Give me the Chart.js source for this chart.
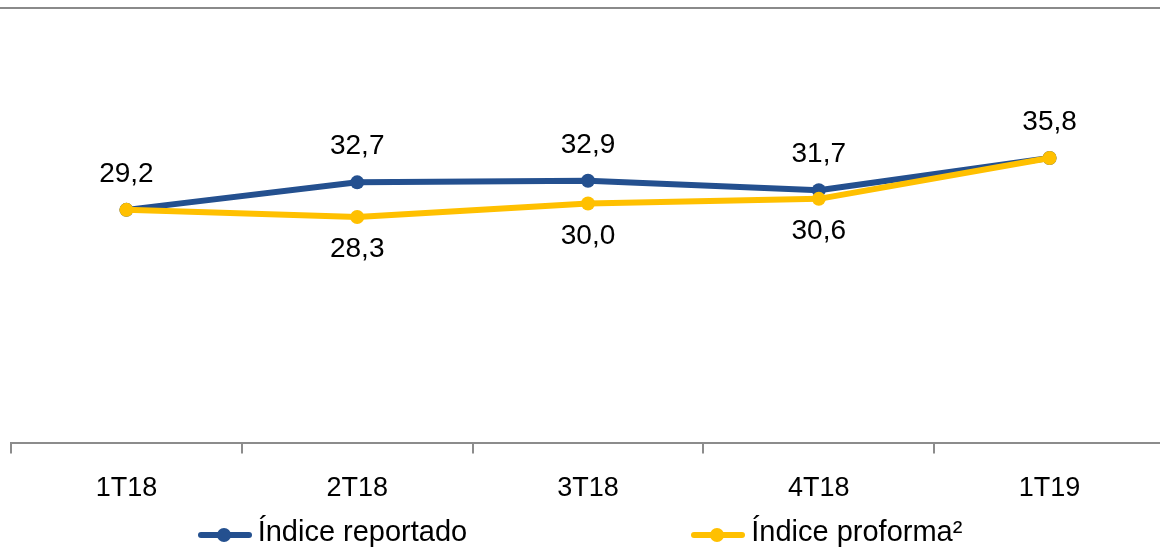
<!DOCTYPE html>
<html>
<head>
<meta charset="utf-8">
<script src="https://cdn.jsdelivr.net/npm/chart.js@4.4.0/dist/chart.umd.min.js"></script>
<style>
  html, body { margin: 0; padding: 0; background: #fff; overflow: hidden; }
  #wrap { position: relative; width: 1160px; height: 549px; overflow: hidden; }
  #grafico { position: absolute; left: 0; top: 0; }
  #topo { position: absolute; left: 0; top: 7px; width: 1160px; height: 2px; background: #8a8a8a; }
  #legenda { position: absolute; left: 0; top: 514px; width: 1160px; display: flex; justify-content: center; gap: 224px;
             font-family: "Liberation Sans", Arial, sans-serif; font-size: 29px; color: #000; line-height: 34px; }
  .item { display: flex; align-items: center; }
  .marca { position: relative; width: 54px; height: 14px; margin-right: 6px; margin-top: 8px; }
  .marca .linha { position: absolute; left: 0; right: 0; top: 4px; height: 6px; border-radius: 3px; }
  .marca .ponto { position: absolute; left: 19px; top: 0; width: 14px; height: 14px; border-radius: 50%; }
</style>
</head>
<body>
<div id="wrap">
  <canvas id="grafico" width="1172" height="549"></canvas>
  <div id="topo"></div>
  <div id="legenda"></div>
</div>
<script>
// dados do grafico ------------------------------------------------------------
const categorias = ['1T18', '2T18', '3T18', '4T18', '1T19'];
const indiceReportado = [29.2, 32.7, 32.9, 31.7, 35.8];
const indiceProforma = [29.2, 28.3, 30.0, 30.6, 35.8];
const nomesSeries = ['Índice reportado', 'Índice proforma²'];
const coresSeries = ['#24508f', '#ffc000'];

const fonte = '"Liberation Sans", Arial, sans-serif';

// rotulos de valor: reportado acima, proforma abaixo ---------------------------
const rotulos = {
  id: 'rotulos',
  afterDatasetsDraw(chart) {
    const ctx = chart.ctx;
    ctx.save();
    ctx.font = '28px ' + fonte;
    ctx.fillStyle = '#000';
    ctx.textAlign = 'center';
    ctx.textBaseline = 'alphabetic';
    chart.data.datasets.forEach((ds, i) => {
      const meta = chart.getDatasetMeta(i);
      meta.data.forEach((pt, j) => {
        const v = ds.data[j];
        // se o valor e igual ao da outra serie, so um rotulo
        if (i === 1 && v === chart.data.datasets[0].data[j]) return;
        const texto = v.toFixed(1).replace('.', ',');
        if (i === 0) ctx.fillText(texto, pt.x, pt.y - 28);
        else ctx.fillText(texto, pt.x, pt.y + 40);
      });
    });
    ctx.restore();
  }
};

const ctx = document.getElementById('grafico').getContext('2d');
const grafico = new Chart(ctx, {
  type: 'line',
  data: {
    labels: categorias,
    datasets: [
      {
        label: nomesSeries[0],
        data: indiceReportado,
        borderColor: coresSeries[0],
        backgroundColor: coresSeries[0],
        borderWidth: 6,
        borderJoinStyle: 'round',
        pointRadius: 7,
        pointBorderWidth: 0,
        order: 1
      },
      {
        label: nomesSeries[1],
        data: indiceProforma,
        borderColor: coresSeries[1],
        backgroundColor: coresSeries[1],
        borderWidth: 6,
        borderJoinStyle: 'round',
        pointRadius: 7,
        pointBorderWidth: 0,
        order: 0
      }
    ]
  },
  options: {
    responsive: false,
    animation: false,
    layout: { padding: { left: 11, right: 2, top: 6, bottom: 25 } },
    plugins: {
      legend: { display: false },
      tooltip: { enabled: false }
    },
    scales: {
      x: {
        offset: true,
        grid: { offset: true, drawOnChartArea: false, color: '#8c8c8c', lineWidth: 2, tickLength: 11 },
        border: { color: '#8c8c8c', width: 2 },
        ticks: { color: '#000', font: { family: fonte, size: 27 }, padding: 19 }
      },
      y: { display: false, min: -0.4, max: 55 }
    }
  },
  plugins: [rotulos]
});

// legenda em html (linha com ponto) --------------------------------------------
const legenda = document.getElementById('legenda');
nomesSeries.forEach((nome, i) => {
  const item = document.createElement('div');
  item.className = 'item';
  item.innerHTML = '<span class="marca"><span class="linha" style="background:' + coresSeries[i] +
    '"></span><span class="ponto" style="background:' + coresSeries[i] + '"></span></span><span>' + nome + '</span>';
  legenda.appendChild(item);
});
</script>
</body>
</html>
